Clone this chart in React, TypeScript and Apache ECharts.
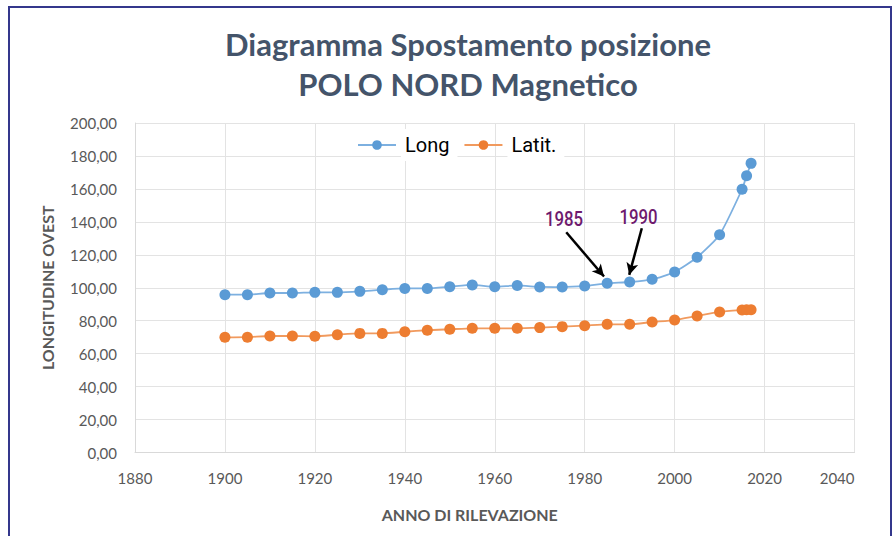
import React, { useEffect, useRef } from "react";
import * as echarts from "echarts";

const years = [1900, 1905, 1910, 1915, 1920, 1925, 1930, 1935, 1940, 1945, 1950, 1955, 1960, 1965, 1970, 1975, 1980, 1985, 1990, 1995, 2000, 2005, 2010, 2015, 2016, 2017];
const longValues = [95.8, 95.8, 96.8, 96.8, 97.2, 97.2, 97.8, 98.8, 99.6, 99.6, 100.6, 101.7, 100.6, 101.4, 100.5, 100.4, 101.1, 102.7, 103.5, 105.1, 109.6, 118.5, 132.2, 159.8, 168.0, 175.5];
const latValues = [69.9, 70.0, 70.7, 70.7, 70.5, 71.5, 72.3, 72.3, 73.3, 74.2, 74.8, 75.4, 75.4, 75.4, 75.8, 76.4, 77.0, 77.8, 77.8, 79.2, 80.4, 82.9, 85.3, 86.5, 86.6, 86.6];

const titleLines = ["Diagramma Spostamento posizione", "POLO NORD Magnetico"];
const seriesNames = ["Long", "Latit."];
const annotationLabels = ["1985", "1990"];
// arrows in data coordinates: [start, end]
const arrow1985 = [[1975.9, 133.7], [1984.3, 106.8]];
const arrow1990 = [[1992.7, 136.1], [1989.9, 107.8]];

export default function App() {
  const ref = useRef<HTMLDivElement>(null);
  useEffect(() => {
    if (!ref.current) return;
    const chart = echarts.init(ref.current, null, { renderer: "svg" });
    const labelColor = "#595959";
    const font = "Lato, 'Open Sans', sans-serif";
    const annoStyle = {
      fill: "#6E1A6E",
      fontFamily: "Roboto, sans-serif",
      fontSize: 21,
      fontWeight: 500,
      align: "center",
      verticalAlign: "middle",
    };
    chart.setOption({
      animation: false,
      backgroundColor: "#ffffff",
      title: {
        text: titleLines.join("\n"),
        left: 463,
        textAlign: "center",
        top: 19,
        textStyle: {
          fontFamily: font,
          fontSize: 31,
          fontWeight: "bold",
          color: "#44546A",
          lineHeight: 40,
        },
      },
      legend: {
        data: seriesNames,
        left: 352,
        top: 124,
        itemWidth: 38,
        itemHeight: 12,
        itemGap: 6,
        textStyle: {
          fontFamily: "Roboto, sans-serif",
          fontSize: 20,
          color: "#000000",
          backgroundColor: "#ffffff",
          padding: [6, 8, 6, 4],
        },
      },
      grid: { left: 135, right: 40.5, top: 123, bottom: 83.5, containLabel: false },
      xAxis: {
        type: "value",
        min: 1880,
        max: 2040,
        interval: 20,
        name: "ANNO DI RILEVAZIONE",
        nameLocation: "middle",
        nameGap: 54,
        nameTextStyle: {
          fontFamily: font,
          fontSize: 16,
          fontWeight: "bold",
          color: labelColor,
          padding: [0, 50, 0, 0],
        },
        axisLine: { show: true, lineStyle: { color: "#d9d9d9", width: 1 } },
        axisTick: { show: false },
        splitLine: { show: true, lineStyle: { color: "#e3e3e3", width: 1 } },
        axisLabel: {
          fontFamily: font,
          fontSize: 15,
          color: labelColor,
          margin: 18,
          alignMaxLabel: "right",
          formatter: (v: number) => String(v),
        },
      },
      yAxis: {
        type: "value",
        min: 0,
        max: 200,
        interval: 20,
        name: "LONGITUDINE OVEST",
        nameLocation: "middle",
        nameGap: 80,
        nameRotate: 90,
        nameTextStyle: { fontFamily: font, fontSize: 16, fontWeight: "bold", color: labelColor },
        axisLine: { show: true, lineStyle: { color: "#d9d9d9", width: 1 } },
        axisTick: { show: false },
        splitLine: { show: true, lineStyle: { color: "#e3e3e3", width: 1 } },
        axisLabel: {
          fontFamily: font,
          fontSize: 15,
          color: labelColor,
          margin: 18,
          formatter: (v: number) => v.toFixed(2).replace(".", ","),
        },
      },
      series: [
        {
          name: seriesNames[0],
          type: "line",
          data: years.map((y, i) => [y, longValues[i]]),
          smooth: 0.2,
          symbol: "circle",
          symbolSize: 11,
          itemStyle: { color: "#5B9BD5" },
          lineStyle: { color: "#7DB0E0", width: 1.8 },
          markLine: {
            silent: true,
            symbol: ["none", "arrow"],
            symbolSize: [9, 12],
            label: { show: false },
            lineStyle: { color: "#000000", width: 2.5, type: "solid" },
            data: [
              [{ coord: arrow1985[0] }, { coord: arrow1985[1] }],
              [{ coord: arrow1990[0] }, { coord: arrow1990[1] }],
            ],
          },
        },
        {
          name: seriesNames[1],
          type: "line",
          data: years.map((y, i) => [y, latValues[i]]),
          smooth: 0.2,
          symbol: "circle",
          symbolSize: 11,
          itemStyle: { color: "#ED7D31" },
          lineStyle: { color: "#F19A5E", width: 1.8 },
        },
      ],
      graphic: [
        {
          type: "text",
          x: 564,
          y: 219,
          scaleX: 0.8,
          style: { text: annotationLabels[0], ...annoStyle },
          z: 100,
        },
        {
          type: "text",
          x: 638.5,
          y: 217,
          scaleX: 0.8,
          style: { text: annotationLabels[1], ...annoStyle },
          z: 100,
        },
        {
          type: "rect",
          shape: { x: 9, y: 7, width: 882, height: 560 },
          style: { fill: "none", stroke: "#34378C", lineWidth: 2 },
          z: 100,
          silent: true,
        },
      ],
    });
    return () => chart.dispose();
  }, []);
  return (
    <div
      ref={ref}
      style={{ position: "fixed", left: 0, top: 0, width: 895, height: 536 }}
    />
  );
}
